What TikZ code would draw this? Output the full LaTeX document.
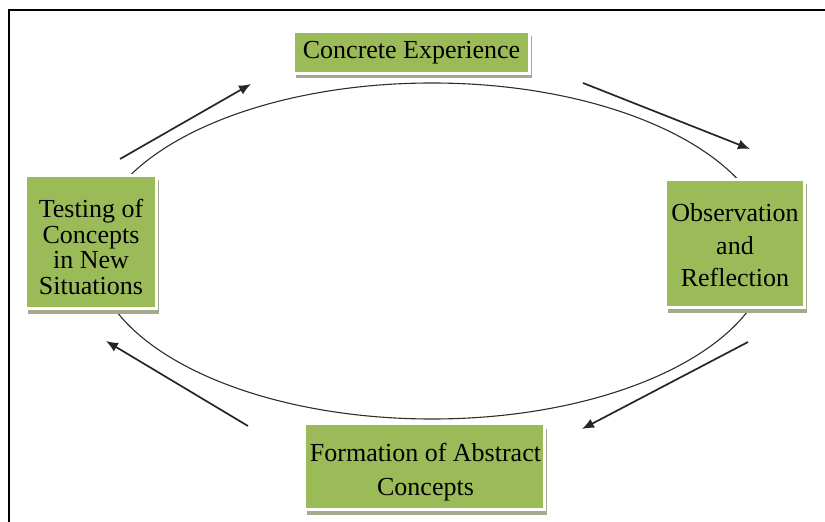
\documentclass[tikz,border=0pt]{standalone}
\usepackage{fontspec}
\setmainfont{Liberation Serif}
\usetikzlibrary{arrows.meta,shadows}
\definecolor{kgreen}{RGB}{155,187,89}
\definecolor{kshadow}{RGB}{163,170,142}
\definecolor{kline}{RGB}{45,45,45}
\tikzset{
  kbox/.style={fill=kgreen, draw=white, line width=3bp, inner sep=0pt, outer sep=0pt,
    drop shadow={shadow xshift=2.5bp, shadow yshift=-5bp, fill=kshadow, opacity=1}},
  ktext/.style={align=center, text=black, inner sep=0pt},
  cyc/.style={draw=kline, line width=1.1bp},
  karrow/.style={draw=black!85, line width=1.7bp, -{Latex[length=12bp,width=10bp]}},
  frame/.style={draw=black, line width=2.5bp}
}
\begin{document}
\begin{tikzpicture}[x=1bp,y=-1bp]
\useasboundingbox (0,0) rectangle (825,522);
\clip (0,0) rectangle (825,522);
% frame
\draw[frame] (9,540) -- (9,10) -- (840,10);
% cycle
\draw[cyc] (432,251) ellipse [x radius=338, y radius=168];
% boxes
\node[kbox, minimum width=236bp, minimum height=42bp] (ce) at (411.5,52.5) {};
\node[kbox, minimum width=131bp, minimum height=133bp] (tc) at (91,242) {};
\node[kbox, minimum width=139bp, minimum height=128bp] (or) at (735,243.5) {};
\node[kbox, minimum width=240bp, minimum height=86bp] (fa) at (424.5,466.5) {};
% texts
\node[ktext, font=\fontsize{26bp}{30bp}\selectfont] (cet) at ([shift={(0,0)}]ce.center) {Concrete Experience};
\node[ktext, font=\fontsize{26bp}{25.5bp}\selectfont] (tct) at ([shift={(0,5)}]tc.center)
  {Testing of\\Concepts\\in New\\Situations};
\node[ktext, font=\fontsize{26bp}{32.5bp}\selectfont] (ort) at ([shift={(0,2)}]or.center) {Observation\\and\\Reflection};
\node[ktext, font=\fontsize{26bp}{34bp}\selectfont] (fat) at ([shift={(1,6)}]fa.center) {Formation of Abstract\\Concepts};
% arrows
\coordinate (a1s) at (120,159); \coordinate (a1e) at (251,84);
\coordinate (a2s) at (583,83);  \coordinate (a2e) at (750,149);
\coordinate (a3s) at (748,342); \coordinate (a3e) at (582,429);
\coordinate (a4s) at (248,426); \coordinate (a4e) at (106,341);
\draw[karrow] (a1s) -- (a1e);
\draw[karrow] (a2s) -- (a2e);
\draw[karrow] (a3s) -- (a3e);
\draw[karrow] (a4s) -- (a4e);
\end{tikzpicture}
\end{document}
